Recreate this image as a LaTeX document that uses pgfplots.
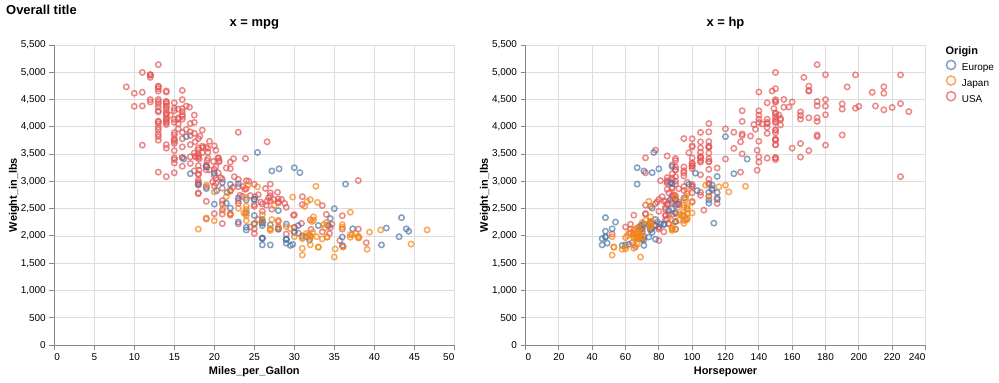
\documentclass[border=0pt]{standalone}
\usepackage{pgfplots}
\pgfplotsset{compat=1.18}
\usepackage{pgfplotstable}
\usepackage{fontspec}
\setmainfont{Liberation Sans}
\definecolor{cEu}{HTML}{4C78A8}
\definecolor{cJp}{HTML}{F58518}
\definecolor{cUs}{HTML}{E45756}
\definecolor{cGrid}{HTML}{DDDDDD}
\definecolor{cAx}{HTML}{888888}

\pgfplotstableread{
mpg hp wt
26.0 46 1835
25.0 87 2672
24.0 90 2430
25.0 95 2375
26.0 113 2234
28.0 90 2123
30.0 70 2074
30.0 76 2065
27.0 60 1834
23.0 54 2254
18.0 112 2933
22.0 76 2511
21.0 87 2979
26.0 69 2189
26.0 46 1950
26.0 90 2265
29.0 49 1867
24.0 75 2158
20.0 91 2582
19.0 112 2868
24.0 110 2660
29.0 83 2219
26.0 67 1963
26.0 78 2300
24.0 75 2108
26.0 75 2246
31.0 67 2000
25.0 71 2223
29.0 70 1937
23.0 95 2694
23.0 88 2957
22.0 98 2945
25.0 115 2671
28.0 86 2464
25.0 81 2220
27.0 83 2202
29.0 70 1937
29.5 71 1825
20.0 102 3150
19.0 88 3270
16.5 120 3820
36.0 58 1825
29.0 78 1940
30.5 78 2190
21.5 110 2600
43.1 48 1985
20.3 103 2830
17.0 125 3140
21.6 115 2795
16.2 133 3410
31.5 71 1990
31.9 71 1925
25.4 77 3530
27.2 71 3190
37.3 69 2130
41.5 76 2144
34.3 78 2188
44.3 48 2085
43.4 48 2335
36.4 67 2950
30.0 67 3250
40.9 nan 1835
29.8 62 1845
35.0 88 2500
33.0 74 2190
34.5 nan 2320
28.1 80 3230
30.7 76 3160
36.0 74 1980
44.0 52 2130
nan 115 3090
nan 48 1978
nan 110 2800
}\europe

\pgfplotstableread{
mpg hp wt
24.0 95 2372
27.0 88 2130
27.0 88 2130
25.0 95 2228
31.0 65 1773
35.0 69 1613
24.0 95 2278
19.0 97 2330
28.0 92 2288
23.0 97 2506
27.0 88 2100
20.0 88 2279
22.0 94 2379
18.0 90 2124
20.0 122 2807
31.0 67 1950
32.0 65 1836
31.0 52 1649
32.0 61 2003
24.0 97 2489
26.0 93 2391
29.0 75 2171
24.0 96 2702
24.0 97 2545
33.0 53 1795
33.0 53 1795
32.0 70 1990
28.0 75 2155
19.0 108 2930
31.5 68 2045
33.5 70 1945
26.0 75 2265
30.0 67 1985
22.0 97 2815
21.5 110 2720
32.8 52 1985
39.4 70 2070
36.1 60 1800
27.5 95 2560
27.2 97 2300
21.1 95 2515
23.9 97 2405
29.5 68 2135
34.1 65 1975
31.8 65 2020
38.1 60 1968
37.2 65 2019
29.8 90 2711
31.3 75 2542
37.0 92 2434
32.2 75 2265
46.6 65 2110
40.8 65 2110
44.6 67 1850
33.8 67 2145
32.7 132 2910
23.7 100 2420
32.4 72 2290
39.1 58 1755
35.1 60 1760
32.3 67 2065
37.0 65 1975
37.7 62 2050
34.1 68 1985
33.7 75 2210
32.4 75 2350
32.9 100 2615
31.6 74 2635
25.4 116 2900
24.2 120 2930
37.0 68 2025
31.0 68 1970
36.0 88 2160
36.0 75 2205
34.0 70 2245
38.0 67 1965
32.0 67 1965
38.0 67 1995
32.0 96 2665
}\japan

\pgfplotstableread{
mpg hp wt
18 130 3504
15 165 3693
18 150 3436
16 150 3433
17 140 3449
15 198 4341
14 220 4354
14 215 4312
14 225 4425
15 190 3850
15 170 3563
14 160 3609
15 150 3761
14 225 3086
22 95 2833
18 97 2774
21 85 2587
21 90 2648
10 215 4615
10 200 4376
11 210 4382
9 193 4732
28 90 2264
25 nan 2046
19 100 2634
16 105 3439
17 100 3329
19 88 3302
18 100 3288
14 165 4209
14 175 4464
14 153 4154
14 150 4096
12 180 4955
13 170 4746
13 175 5140
18 110 2962
22 72 2408
19 100 3282
18 88 3139
23 86 2220
26 70 1955
25 80 2126
20 90 2408
21 86 2226
13 165 4274
14 175 4385
15 150 4135
14 153 4129
17 150 3672
11 208 4633
13 155 4502
12 160 4456
13 190 4422
15 150 3892
13 130 4098
13 140 4294
14 150 4077
22 86 2395
28 80 2164
13 175 4100
14 150 3672
13 145 3988
14 137 4042
15 150 3777
12 198 4952
13 150 4464
13 158 4363
14 150 4237
13 215 4735
12 225 4951
13 175 3821
18 105 3121
16 100 3278
18 100 2945
18 88 3021
23 95 2904
11 150 4997
12 167 4906
13 170 4654
12 180 4499
18 100 2789
21 72 2401
19 85 2310
21 107 2472
15 145 4082
16 230 4278
15 150 3399
11 180 3664
20 95 3102
21 nan 2875
19 100 2901
15 100 3336
26 80 2451
25 75 2542
16 100 3781
16 110 3632
18 105 3613
16 140 4141
13 150 4699
14 150 4457
14 140 4638
14 150 4257
28 75 2125
19 95 3264
18 105 3459
15 72 3432
15 72 3158
16 170 4668
15 145 4440
16 150 4498
14 148 4657
17 110 3907
16 105 3897
15 110 3730
18 95 3785
21 110 3039
20 110 3221
13 129 3169
23 83 2639
20 100 2914
23 78 2592
18 97 2984
19 90 3211
25 92 2572
26 79 2255
17.5 140 4215
16 150 4190
15.5 120 3962
14.5 152 4215
22 100 3233
22 105 3353
24 81 3012
22.5 90 3085
29 52 2035
24.5 60 2164
20 100 3651
18 78 3574
18.5 110 3645
17.5 95 3193
26.5 72 2565
13 150 3940
16.5 180 4380
13 145 4055
13 130 3870
13 150 3755
30 80 2155
25.5 96 2300
17.5 145 3880
17 110 4060
15.5 145 4140
15 130 4295
17.5 110 3520
20.5 105 3425
19 100 3630
18.5 98 3525
16 180 4220
15.5 170 4165
15.5 190 4325
16 149 4335
24.5 88 2740
25.5 89 2755
30.5 63 2051
33.5 83 2075
36.1 66 1800
19.9 110 3365
19.4 140 3735
20.2 139 3570
19.2 105 3535
20.5 95 3155
20.2 85 2965
25.1 88 2720
20.5 100 3430
19.4 90 3210
20.6 105 3380
20.8 85 3070
18.6 110 3620
18.1 120 3410
19.2 145 3425
17.7 165 3445
18.1 139 3205
17.5 140 4080
30 68 2155
30.9 75 2230
23.2 105 2745
23.8 85 2855
21.5 115 3245
19.8 85 2990
22.3 88 2890
20.2 90 3265
20.6 110 3360
17 130 3840
17.6 129 3725
16.5 138 3955
18.2 135 3830
16.9 155 4360
15.5 142 4054
19.2 125 3605
18.5 150 3940
35.7 80 1915
27.4 80 2670
23 125 3900
23.9 90 3420
34.2 70 2200
34.5 70 2150
28.4 90 2670
28.8 115 2595
26.8 115 2700
33.5 90 2556
32.1 70 2120
28 90 2678
26.4 88 2870
24.3 90 3003
19.1 90 3381
27.9 105 2800
23.6 nan 2905
27.2 84 2490
26.6 84 2635
25.8 92 2620
23.5 110 2725
30 84 2385
39 64 1875
34.7 63 2215
34.4 65 2045
29.9 65 2380
22.4 110 3415
26.6 105 3725
20.2 88 3060
17.6 85 3465
28 88 2605
27 88 2640
34 88 2395
31 85 2575
29 84 2525
27 90 2735
24 92 2865
38 63 2125
36 70 2125
25 110 2945
38 85 3015
26 92 2585
22 112 2835
36 84 2370
27 90 2950
27 86 2790
32 84 2295
28 79 2625
31 82 2720
23 nan 3035
nan 165 4142
nan 153 4034
nan 175 4166
nan 175 3850
nan 140 3353
}\usa

\pgfplotsset{
  carsaxis/.style={
    scale only axis, width=400bp, height=300bp,
    anchor=south west,
    ymin=0, ymax=5500, ytick={0,500,...,5500},
    axis lines*=left,
    axis line style={draw=cAx, line width=1bp},
    grid=major, grid style={draw=cGrid, line width=0.8bp},
    tick align=outside, major tick length=5bp,
    tick style={draw=cAx, line width=1bp},
    tick label style={font=\fontsize{10}{12}\selectfont},
    /pgf/number format/assume math mode=true,
    yticklabel style={/pgf/number format/1000 sep={,}, /pgf/number format/fixed},
    scaled ticks=false,
    ylabel={\textbf{Weight\_in\_lbs}},
    ylabel style={font=\fontsize{11}{13}\selectfont, at={(axis description cs:-0.1008,0.5)}, anchor=center, rotate=0},
    xlabel style={font=\fontsize{11}{13}\selectfont, at={(axis description cs:0.5,0)}, anchor=base, yshift=-29.3bp},
    title style={font=\bfseries\fontsize{13}{15}\selectfont, at={(axis description cs:0.5,1)}, anchor=base, yshift=12.5bp},
    clip=false,
  },
  carsmark/.style={only marks, mark=o, mark size=2.7bp, mark options={line width=1.5bp, draw=#1, draw opacity=0.7}},
}

\begin{document}
\begin{tikzpicture}
\useasboundingbox (0,0) rectangle (999bp,383bp);
\node[anchor=base west, font=\bfseries\fontsize{13}{15}\selectfont, inner sep=0pt] at (6bp,368bp) {Overall title};

\begin{axis}[carsaxis, at={(54.3bp,38bp)},
  xmin=0, xmax=50, xtick={0,5,...,50},
  xticklabels={\rlap{0},5,10,15,20,25,30,35,40,45,\llap{50}},
  xlabel={\textbf{Miles\_per\_Gallon}},
  title={x = mpg}]
\addplot[carsmark=cUs] table[x=mpg, y=wt] {\usa};
\addplot[carsmark=cEu] table[x=mpg, y=wt] {\europe};
\addplot[carsmark=cJp] table[x=mpg, y=wt] {\japan};
\end{axis}

\begin{axis}[carsaxis, at={(525.5bp,38bp)},
  xmin=0, xmax=240, xtick={0,20,...,240},
  xticklabels={\rlap{0},20,40,60,80,100,120,140,160,180,200,220,\llap{240}},
  xlabel={\textbf{Horsepower}},
  title={x = hp},
  legend style={draw=none, fill=none, at={(1.05,0.952)}, anchor=north west,
    font=\fontsize{10}{12}\selectfont, row sep=1.8bp, column sep=4.5bp, inner sep=0pt,
    nodes={inner sep=1bp}},
  legend cell align=left,
  legend image code/.code={\draw[#1] (5.5bp,0.33em) circle (4.6bp);}]
\addplot[carsmark=cUs, forget plot] table[x=hp, y=wt] {\usa};
\addplot[carsmark=cEu, forget plot] table[x=hp, y=wt] {\europe};
\addplot[carsmark=cJp, forget plot] table[x=hp, y=wt] {\japan};
\addlegendimage{draw=cEu, draw opacity=0.7, line width=1.5bp}
\addlegendentry{Europe}
\addlegendimage{draw=cJp, draw opacity=0.7, line width=1.5bp}
\addlegendentry{Japan}
\addlegendimage{draw=cUs, draw opacity=0.7, line width=1.5bp}
\addlegendentry{USA}
\node[anchor=base west, font=\bfseries\fontsize{11}{13}\selectfont, inner sep=0pt] at (rel axis cs:1.05,0.97) {Origin};
\end{axis}
\end{tikzpicture}
\end{document}
